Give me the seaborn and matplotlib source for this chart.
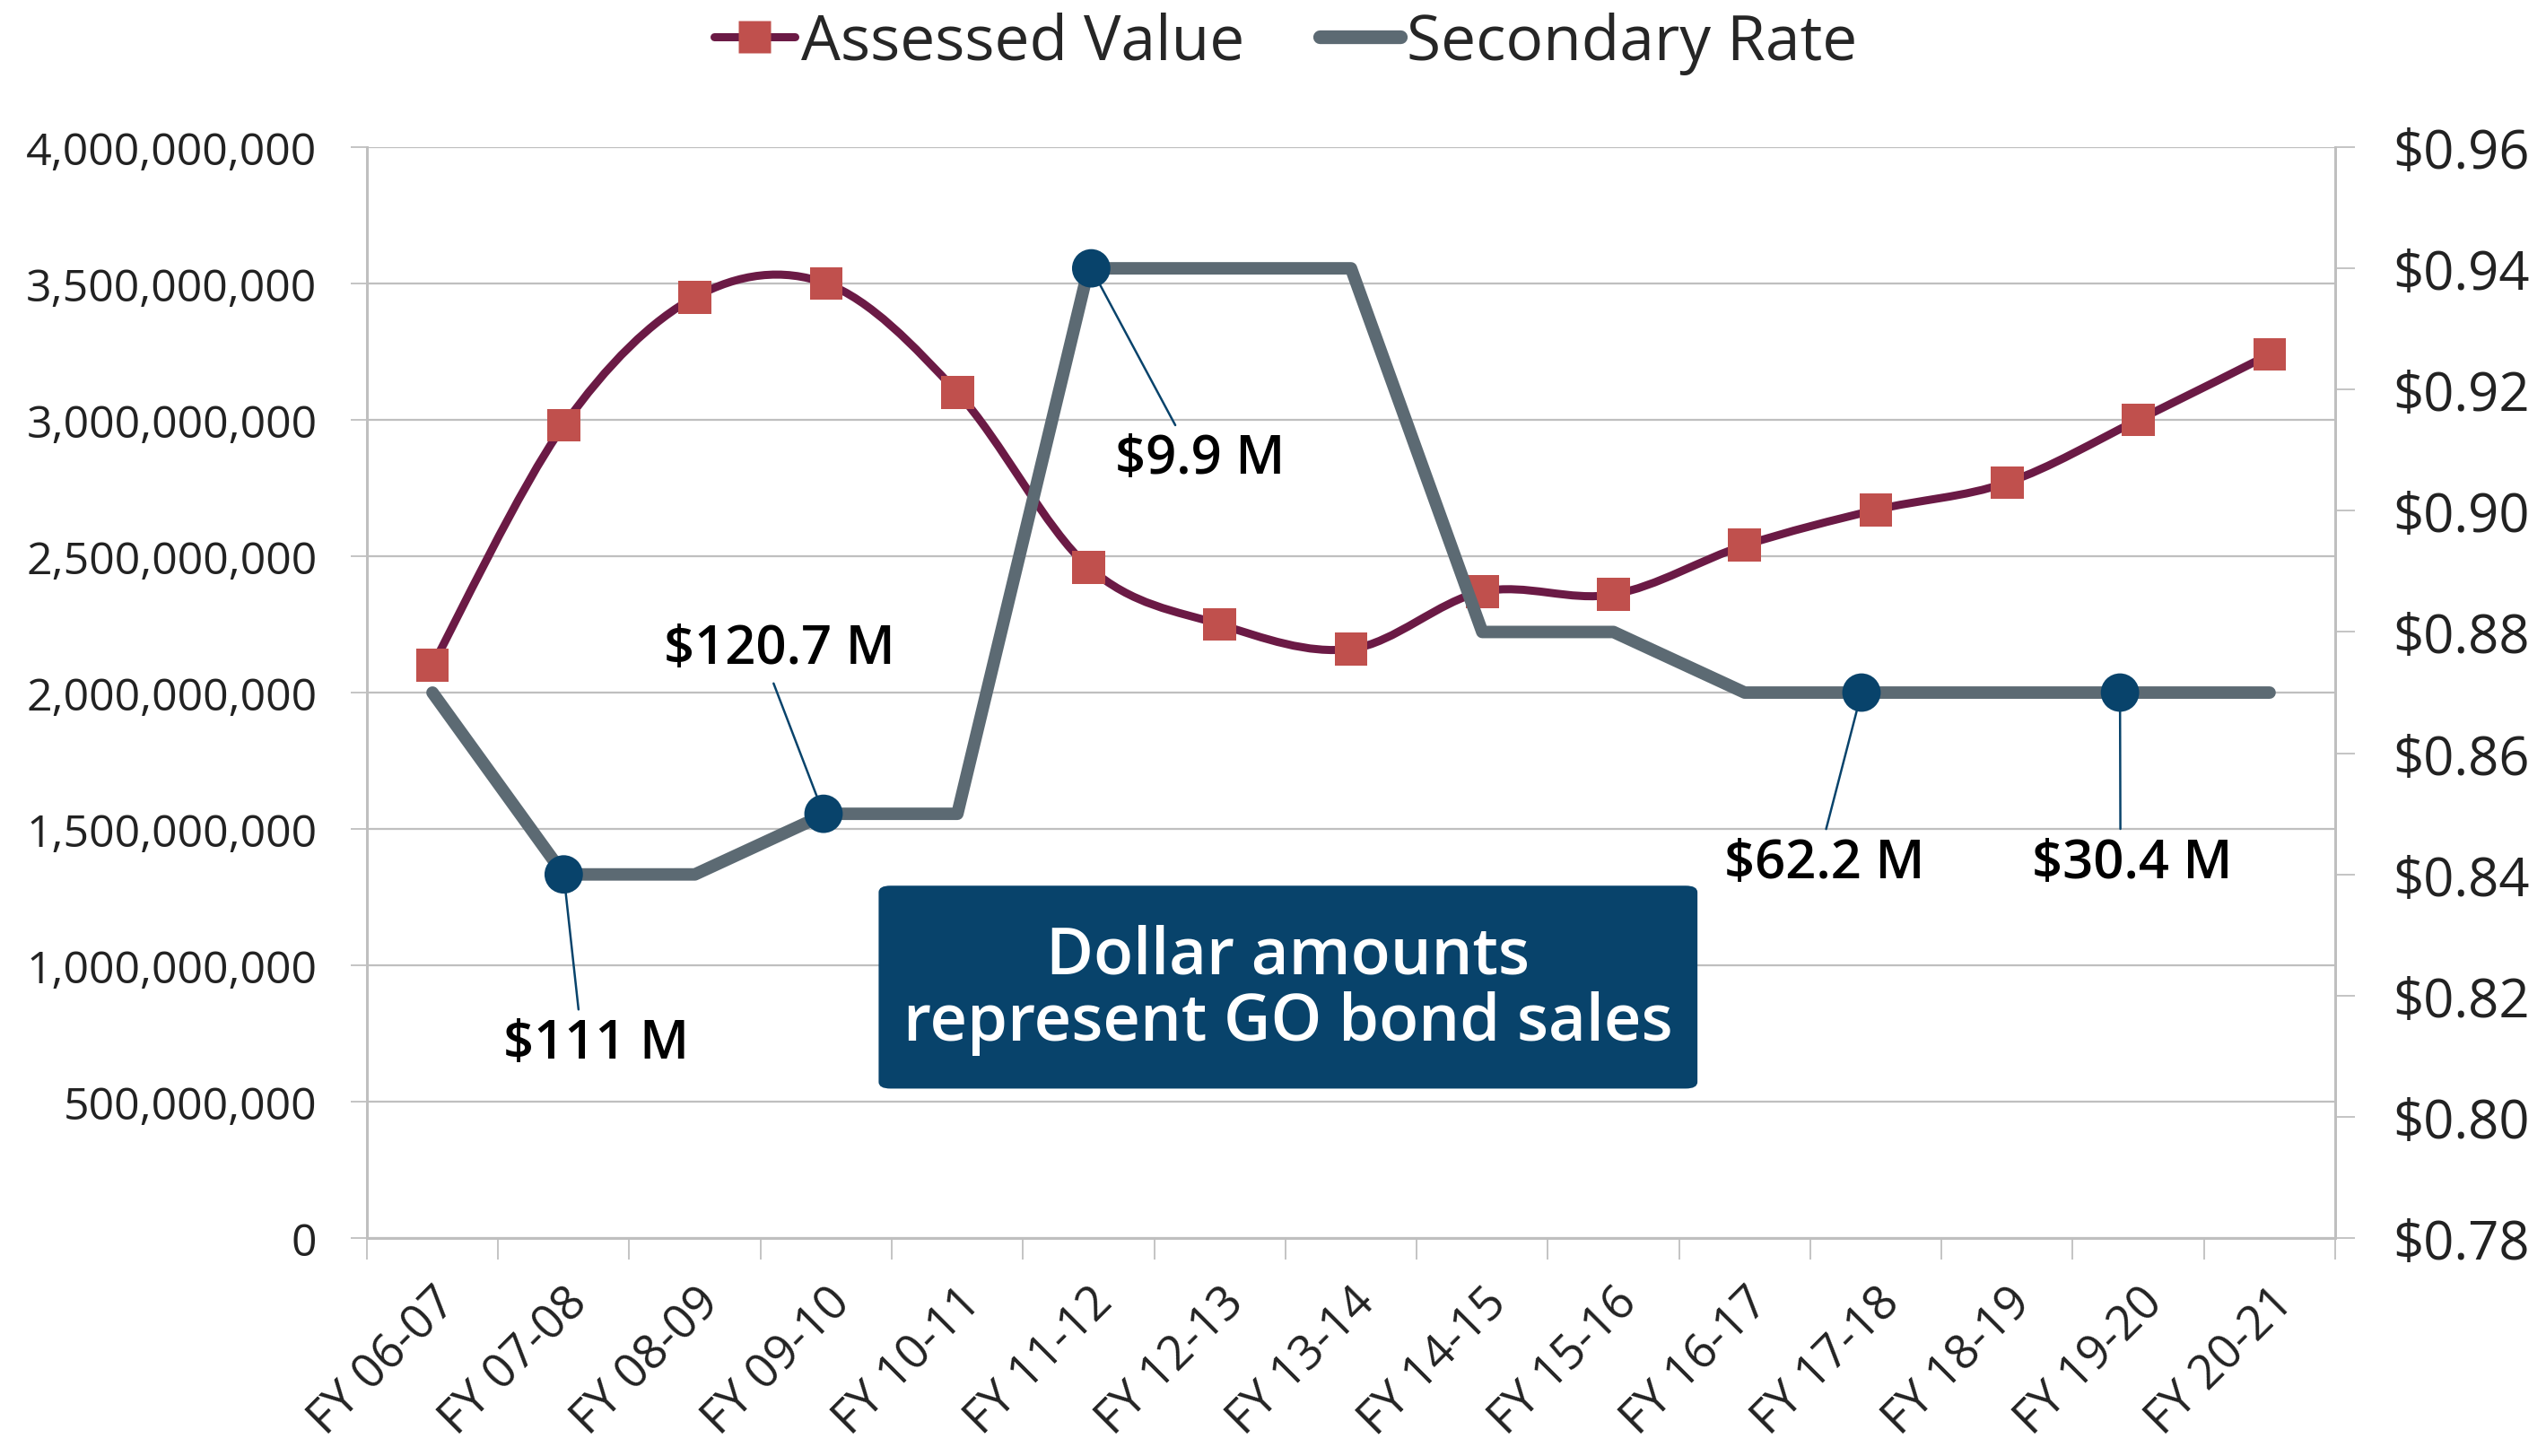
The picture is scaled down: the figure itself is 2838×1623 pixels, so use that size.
import matplotlib
matplotlib.use('Agg')
import matplotlib.pyplot as plt
import matplotlib.transforms as mtransforms
import numpy as np
import pandas as pd
import seaborn as sns
from matplotlib.lines import Line2D
from matplotlib.patches import FancyBboxPatch, PathPatch
from matplotlib.path import Path

years = ['FY 06-07', 'FY 07-08', 'FY 08-09', 'FY 09-10', 'FY 10-11',
         'FY 11-12', 'FY 12-13', 'FY 13-14', 'FY 14-15', 'FY 15-16',
         'FY 16-17', 'FY 17-18', 'FY 18-19', 'FY 19-20', 'FY 20-21']
assessed_value = [2.10e9, 2.98e9, 3.45e9, 3.50e9, 3.10e9, 2.46e9, 2.25e9, 2.16e9,
                  2.37e9, 2.36e9, 2.54e9, 2.67e9, 2.77e9, 3.00e9, 3.24e9]
secondary_rate = [0.87, 0.84, 0.84, 0.85, 0.85, 0.94, 0.94, 0.94,
                  0.88, 0.88, 0.87, 0.87, 0.87, 0.87, 0.87]
bond_years = ['FY 07-08', 'FY 09-10', 'FY 11-12', 'FY 17-18', 'FY 19-20']
bond_labels = ['$111 M', '$120.7 M', '$9.9 M', '$62.2 M', '$30.4 M']

MAROON = '#6b1a45'
RED = '#c0504d'
GRAY = '#5c6a73'
NAVY = '#08436b'
GRID = '#bfbfbf'
TXT = '#222222'

sns.set_theme(style='white')
plt.rcParams['font.family'] = ['Open Sans', 'DejaVu Sans']

df = pd.DataFrame({'x': np.arange(len(years)), 'year': years,
                   'assessed': assessed_value, 'rate': secondary_rate})
bonds = df[df.year.isin(bond_years)].copy()
bonds['label'] = bond_labels
# markers for the last two sales sit a bit left of the category centre in the original
bonds['x'] = bonds['x'] + np.array([0, -0.02, 0.02, -0.11, -0.14])

fig = plt.figure(figsize=(28.38, 16.24), dpi=100)
ax = fig.add_axes([0.1441, 0.1496, 0.7731, 0.7488])
ax2 = ax.twinx()

# smoothed assessed value line (Catmull-Rom through the points, like Excel's smoothing)
pts = df[['x', 'assessed']].to_numpy(dtype=float)
verts = [pts[0]]
codes = [Path.MOVETO]
n = len(pts)
for i in range(n - 1):
    p0, p1, p2, p3 = pts[max(i - 1, 0)], pts[i], pts[i + 1], pts[min(i + 2, n - 1)]
    verts += [p1 + (p2 - p0) / 6, p2 - (p3 - p1) / 6, p2]
    codes += [Path.CURVE4] * 3
ax.add_patch(PathPatch(Path(verts, codes), fill=False, ec=MAROON, lw=6.5, capstyle='round', zorder=3))
sns.scatterplot(data=df, x='x', y='assessed', marker='s', s=700, color=RED,
                edgecolor='none', ax=ax, zorder=4, legend=False)

sns.lineplot(data=df, x='x', y='rate', color=GRAY, lw=10, ax=ax2,
             solid_capstyle='round', solid_joinstyle='round', zorder=3)
sns.scatterplot(data=bonds, x='x', y='rate', marker='o', s=950, color=NAVY,
                edgecolor='none', ax=ax2, zorder=4, legend=False)

offsets = [(26, -136), (-35, 132), (87, -153), (-30, -137), (10, -137)]
relpos = [(0.41, 1.0), (0.46, 0.0), (0.38, 1.0), (0.5, 1.0), (0.44, 1.0)]
for (_, r), off, rp in zip(bonds.iterrows(), offsets, relpos):
    ax2.annotate(r['label'], xy=(r['x'], r['rate']), xytext=off, textcoords='offset points',
                 ha='center', va='center', fontsize=43, fontweight='semibold', color='black',
                 arrowprops=dict(arrowstyle='-', color=NAVY, lw=1.8, relpos=rp,
                                 shrinkA=4, shrinkB=0), zorder=5)

# note box
ax.add_patch(FancyBboxPatch((0.260, 0.137), 0.416, 0.186, boxstyle='round,pad=0,rounding_size=0.006',
                            transform=ax.transAxes, fc=NAVY, ec='none', zorder=6))
ax.text(0.468, 0.228, 'Dollar amounts\nrepresent GO bond sales', transform=ax.transAxes,
        ha='center', va='center', fontsize=52, fontweight='semibold', color='white',
        linespacing=1.05, zorder=7)

# axes
ax.set_xlim(-0.5, len(years) - 0.5)
ax.set_ylim(0, 4e9)
ax2.set_ylim(0.78, 0.96)
ax.set_yticks(np.arange(0, 4.01e9, 5e8))
ax.set_yticklabels(['0' if v == 0 else f'{v:,.0f}' for v in np.arange(0, 4.01e9, 5e8)])
rt = np.round(np.arange(0.78, 0.9601, 0.02), 2)
ax2.set_yticks(rt)
ax2.set_yticklabels([f'${v:.2f}' for v in rt])
ax.set_xticks(df.x)
ax.set_xticklabels(years, rotation=45, ha='right', rotation_mode='anchor')
shift = mtransforms.ScaledTranslation(-13 / 72, -4 / 72, fig.dpi_scale_trans)
for lab in ax.get_xticklabels():
    lab.set_transform(lab.get_transform() + shift)
ax.set_xticks(np.arange(-0.5, len(years), 1), minor=True)
ax.tick_params(axis='x', which='major', length=0, pad=32, labelsize=38, labelcolor=TXT)
ax.tick_params(axis='x', which='minor', length=17, width=1.3, color=GRID, bottom=True)
ax.tick_params(axis='y', length=13, width=1.3, color=GRID, pad=27, labelsize=36,
               labelcolor=TXT, left=True)
ax2.tick_params(axis='y', length=16, width=1.3, color=GRID, pad=30, labelsize=43,
                labelcolor=TXT, right=True)
ax.grid(axis='y', color=GRID, lw=1.6)
ax.set_axisbelow(True)
ax.set_xlabel('')
ax.set_ylabel('')
ax2.set_ylabel('')
for a in (ax, ax2):
    a.spines['top'].set_visible(False)
    for s in ('left', 'right', 'bottom'):
        a.spines[s].set_color(GRID)
        a.spines[s].set_linewidth(2)

handles = [Line2D([], [], color=MAROON, lw=6.5, marker='s', markersize=26, markerfacecolor=RED,
                  markeredgecolor='none', solid_capstyle='round'),
           Line2D([], [], color=GRAY, lw=11, solid_capstyle='round')]
fig.legend(handles, ['Assessed Value', 'Secondary Rate'], loc='upper center',
           bbox_to_anchor=(0.505, 1.03), ncol=2, frameon=False, fontsize=50,
           handlelength=1.3, handletextpad=0.1, columnspacing=1.2)

fig.savefig('out.png', dpi=100)
